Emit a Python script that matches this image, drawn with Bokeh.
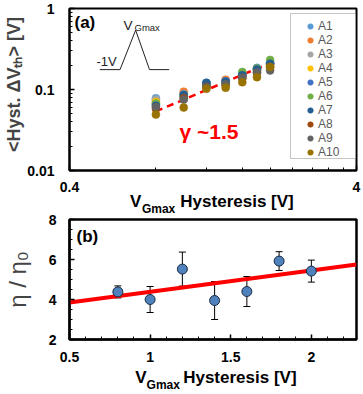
import math
import numpy as np
from bokeh.plotting import figure
from bokeh.layouts import column
from bokeh.models import (Range1d, FixedTicker, CustomJSTickFormatter, Label, Legend,
                          LegendItem, ColumnDataSource, Whisker, TeeHead, LogAxis,
                          LinearAxis, BoxAnnotation)
from bokeh.embed import file_html
from bokeh.resources import INLINE

# ---------------- data: panel (a) ----------------
vg_max = [0.8, 1.0, 1.2, 1.4, 1.6, 1.8, 2.0]
series_names = ["A1", "A2", "A3", "A4", "A5", "A6", "A7", "A8", "A9", "A10"]
series_colors = ["#5B9BD5", "#ED7D31", "#A5A5A5", "#FFC000", "#4472C4",
                 "#70AD47", "#255E91", "#9E480E", "#636363", "#997300"]
A1 = [0.078, 0.090, 0.120, 0.130, 0.158, 0.185, 0.215]
A2 = [0.072, 0.094, 0.116, 0.132, 0.150, 0.178, 0.205]
A3 = [0.075, 0.088, 0.112, 0.125, 0.148, 0.172, 0.200]
A4 = [0.070, 0.085, 0.114, 0.122, 0.145, 0.168, 0.198]
A5 = [0.066, 0.083, 0.118, 0.126, 0.152, 0.180, 0.212]
A6 = [0.067, 0.082, 0.110, 0.118, 0.165, 0.182, 0.232]
A7 = [0.063, 0.086, 0.121, 0.124, 0.150, 0.176, 0.208]
A8 = [0.058, 0.078, 0.108, 0.114, 0.138, 0.160, 0.188]
A9 = [0.061, 0.075, 0.107, 0.116, 0.140, 0.162, 0.172]
A10 = [0.049, 0.060, 0.102, 0.105, 0.123, 0.142, 0.190]
series_values = [A1, A2, A3, A4, A5, A6, A7, A8, A9, A10]

# power-law fit  <dVth> = amp * V^gamma
fit_gamma = 1.5
fit_amp = 0.075

# gate pulse schematic (V_Gmax sweep) drawn as an inset
wave_x = [0.51, 0.60, 0.68, 0.76, 0.89]
wave_y = [0.176, 0.176, 0.54, 0.176, 0.176]

# ---------------- data: panel (b) ----------------
eta_v = [0.8, 1.0, 1.2, 1.4, 1.6, 1.8, 2.0]
eta_ratio = [4.38, 4.0, 5.52, 3.95, 4.4, 5.92, 5.42]
eta_err = [0.3, 0.65, 0.85, 0.95, 0.75, 0.47, 0.55]
eta_fit_slope = 1.07
eta_fit_intercept = 3.31

FONT = "Liberation Sans"

# frame geometry (pixels)
WIDTH = 363
A_H, A_LEFT, A_RIGHT, A_TOP, A_FRAME_H = 218, 67, 7, 8, 166
B_H, B_OVERLAP, B_LEFT, B_RIGHT, B_TOP, B_FRAME_H = 194, 18, 64, 3, 19, 123


def txt(p, x, y, text, size, bold=False, color="black", angle=0.0):
    p.add_layout(Label(x=x, y=y, x_units="screen", y_units="screen", text=text,
                       text_font=FONT, text_font_size=f"{size}px",
                       text_font_style="bold" if bold else "normal",
                       text_color=color, angle=angle, text_align="left",
                       text_baseline="alphabetic"))


def style_axes(p, label_standoff_x, label_standoff_y):
    p.grid.visible = False
    p.outline_line_color = "black"
    p.outline_line_width = 2
    p.background_fill_color = "white"
    for ax in p.axis:
        ax.axis_line_width = 2
        ax.axis_line_color = "black"
        ax.major_tick_in = 5
        ax.major_tick_out = 0
        ax.minor_tick_in = 3
        ax.minor_tick_out = 0
        ax.major_tick_line_width = 1.5
        ax.minor_tick_line_width = 1
        ax.major_label_text_font = FONT
        ax.major_label_text_font_style = "bold"
        ax.major_label_text_font_size = "14px"
        ax.major_label_text_color = "black"
        ax.formatter = CustomJSTickFormatter(code="return tick.toString();")
    p.xaxis.major_label_standoff = label_standoff_x
    p.yaxis.major_label_standoff = label_standoff_y


def title_axis(p, axis_cls, positions, names, size, standoff):
    """A tick-less axis whose labels spell out one part of the axis title."""
    ax = axis_cls(ticker=FixedTicker(ticks=positions, minor_ticks=[]),
                  formatter=CustomJSTickFormatter(args=dict(names=names),
                                                  code="return names[index];"),
                  axis_line_color=None, major_tick_line_color=None,
                  minor_tick_line_color=None, major_tick_in=0, major_tick_out=0,
                  minor_tick_in=0, minor_tick_out=0,
                  major_label_text_font=FONT, major_label_text_font_style="bold",
                  major_label_text_font_size=f"{size}px", major_label_text_color="black",
                  major_label_standoff=standoff)
    p.add_layout(ax, "below")


# ---------------- panel (a) ----------------
pa = figure(width=WIDTH, height=A_H, x_axis_type="log", y_axis_type="log",
            x_range=Range1d(0.4, 4), y_range=Range1d(0.01, 1),
            min_border_left=A_LEFT, min_border_right=A_RIGHT, min_border_top=A_TOP,
            min_border_bottom=A_H - A_TOP - A_FRAME_H,
            toolbar_location=None, output_backend="svg")
pa.border_fill_color = "white"
style_axes(pa, 11, 15)
pa.xaxis.ticker = FixedTicker(ticks=[0.4, 4],
                              minor_ticks=[round(0.4 * k, 1) for k in range(2, 10)])
pa.yaxis.ticker = FixedTicker(ticks=[0.01, 0.1, 1],
                              minor_ticks=[d * k for d in (0.01, 0.1) for k in range(2, 10)])
# two no-break spaces in front nudge the centred title towards the top
pa.yaxis.axis_label = "\u00a0\u00a0<Hyst. ΔVₜₕ> [V]"
pa.yaxis.axis_label_text_font = FONT
pa.yaxis.axis_label_text_font_style = "bold"
pa.yaxis.axis_label_text_font_size = "18px"
pa.yaxis.axis_label_standoff = 0

fit_x = np.array([vg_max[0], vg_max[-1]])
pa.line(fit_x, fit_amp * fit_x ** fit_gamma, line_color="#FF0000", line_width=2.5,
        line_dash="7 5")

items = []
for name, color, vals in zip(series_names, series_colors, series_values):
    r = pa.scatter(vg_max, vals, size=8, fill_color=color, line_color=color, line_width=0.5)
    items.append(LegendItem(label=name, renderers=[r]))

pa.line(wave_x, wave_y, line_color="#222222", line_width=1)

# legend frame, then the legend entries on top of it
pa.add_layout(BoxAnnotation(left=221, right=286, bottom=12, top=157,
                            left_units="screen", right_units="screen",
                            bottom_units="screen", top_units="screen",
                            fill_color="white", fill_alpha=1,
                            line_color="#404040", line_width=1))
legend = Legend(items=items, location=(233, 11), padding=1, spacing=-3,
                glyph_width=16, glyph_height=14, label_height=14, label_standoff=0,
                label_text_font=FONT, label_text_font_size="12px",
                label_text_color="#595959", border_line_color=None,
                background_fill_alpha=0)
pa.add_layout(legend)

txt(pa, 5, 148, "(a)", 17, bold=True)
txt(pa, 54, 145, "V", 13.5, color="#222222")
txt(pa, 65, 143, "Gmax", 9.5, color="#222222")
txt(pa, 27, 109, "-1V", 13, color="#222222")
txt(pa, 110, 39, "γ ~1.5", 21, bold=True, color="#FF0000")

a_w = WIDTH - A_LEFT - A_RIGHT


def a_x(px):
    # horizontal pixel offset inside panel (a) -> value on its log x axis
    return 0.4 * 10 ** (px / a_w)


title_axis(pa, LogAxis, [a_x(66.7), a_x(168.7)], ["V", "Hysteresis [V]"], 17, -3)
title_axis(pa, LogAxis, [a_x(89.7)], ["Gmax"], 12, -12)

# ---------------- panel (b) ----------------
# its transparent top border slides under the title of panel (a)
pb = figure(width=WIDTH, height=B_H, x_range=Range1d(0.5, 2.28), y_range=Range1d(2, 8),
            min_border_left=B_LEFT, min_border_right=B_RIGHT, min_border_top=B_TOP,
            min_border_bottom=B_H - B_TOP - B_FRAME_H,
            toolbar_location=None, output_backend="svg",
            margin=(-B_OVERLAP, 0, 0, 0))
pb.border_fill_alpha = 0
style_axes(pb, 12, 13)
pb.outline_line_width = 2.5
pb.xaxis.ticker = FixedTicker(ticks=[0.5, 1, 1.5, 2],
                              minor_ticks=[round(0.5 + 0.1 * k, 1) for k in range(18)])
pb.yaxis.ticker = FixedTicker(ticks=[2, 4, 6, 8],
                              minor_ticks=[2 + 0.5 * k for k in range(13)])
pb.yaxis.axis_label = "η / η₀"
pb.yaxis.axis_label_text_font = FONT
pb.yaxis.axis_label_text_font_style = "normal"
pb.yaxis.axis_label_text_font_size = "24px"
pb.yaxis.axis_label_standoff = 15

lx = np.array([pb.x_range.start, pb.x_range.end])
pb.line(lx, eta_fit_intercept + eta_fit_slope * lx, line_color="#FF0000", line_width=4)

src = ColumnDataSource(dict(x=eta_v, y=eta_ratio,
                            lo=[v - e for v, e in zip(eta_ratio, eta_err)],
                            hi=[v + e for v, e in zip(eta_ratio, eta_err)]))
pb.add_layout(Whisker(source=src, base="x", upper="hi", lower="lo", line_color="black",
                      line_width=1,
                      upper_head=TeeHead(size=7, line_color="black", line_width=1),
                      lower_head=TeeHead(size=7, line_color="black", line_width=1)))
pb.scatter("x", "y", source=src, size=10, fill_color="#4F81BD", line_color="#1a2a40",
           line_width=1)

txt(pb, 7, 103, "(b)", 17, bold=True)

b_w = WIDTH - B_LEFT - B_RIGHT


def b_x(px):
    # horizontal pixel offset inside panel (b) -> value on its linear x axis
    return 0.5 + px * (2.28 - 0.5) / b_w


title_axis(pb, LinearAxis, [b_x(73.7), b_x(175.7)], ["V", "Hysteresis [V]"], 17, 3)
title_axis(pb, LinearAxis, [b_x(96.7)], ["Gmax"], 12, -12)

layout = column(pa, pb, spacing=0)
open("out.html", "w").write(file_html(layout, INLINE))
